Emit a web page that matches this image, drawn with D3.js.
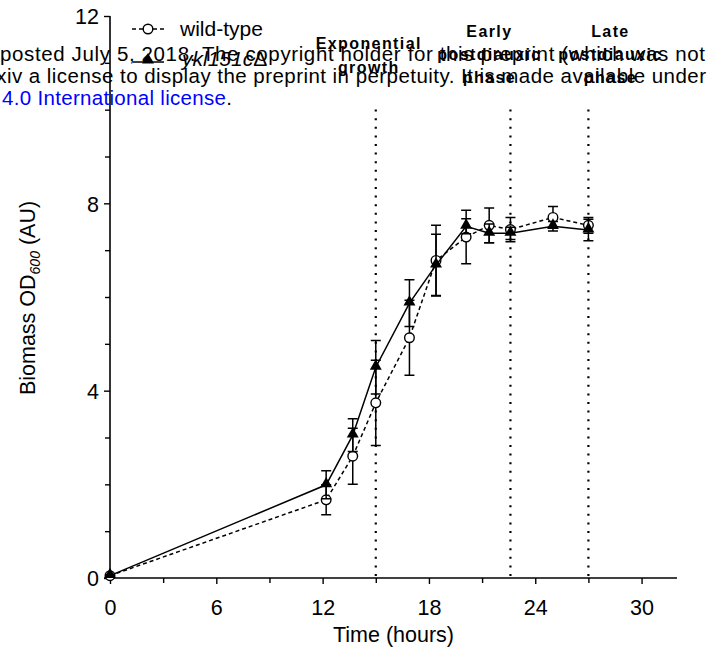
<!DOCTYPE html>
<html>
<head>
<meta charset="utf-8">
<script src="https://cdn.jsdelivr.net/npm/d3@7"></script>
<style>
  html, body { margin: 0; padding: 0; background: #fff; }
  svg { display: block; font-family: "Liberation Sans", Arial, sans-serif; }
</style>
</head>
<body>
<svg id="chart" width="724" height="650"></svg>
<script>
// Sampling times (hours)
const times = [0, 12.2, 13.7, 15.0, 16.9, 18.4, 20.1, 21.4, 22.6, 25.0, 27.0];
// Wild-type OD600 mean and SD
const wildType = [0.05, 1.67, 2.60, 3.74, 5.13, 6.78, 7.28, 7.53, 7.44, 7.70, 7.53];
const wildTypeErr = [0.02, 0.32, 0.60, 0.91, 0.80, 0.75, 0.57, 0.37, 0.26, 0.23, 0.17];
// ykl151cΔ OD600 mean and SD
const mutant = [0.05, 1.99, 3.05, 4.50, 5.87, 6.68, 7.51, 7.36, 7.36, 7.51, 7.43];
const mutantErr = [0.02, 0.30, 0.35, 0.57, 0.50, 0.66, 0.16, 0.20, 0.13, 0.10, 0.23];
// Growth phase markers (hours) and their labels
const phaseTimes = [15, 22.6, 27];
const phaseLabels = [["Exponential", "growth"], ["Early", "postdiauxic", "phase"], ["Late", "postdiauxic", "phase"]];
// Axis ticks
const xMajorTicks = [0, 6, 12, 18, 24, 30];
const xMinorTicks = [3, 9, 15, 21, 27];
const yMajorTicks = [0, 4, 8, 12];
const yMinorTicks = [1, 2, 3, 5, 6, 7, 9, 10, 11];
// Preprint notice lines
const noticeLines = [
  "posted July 5, 2018. The copyright holder for this preprint (which was not",
  "Rxiv a license to display the preprint in perpetuity. It is made available under"
];

const svg = d3.select("#chart");
const x = d3.scaleLinear().domain([0, 32]).range([110, 677]);
const y = d3.scaleLinear().domain([0, 12]).range([578, 16]);
const FS = 21.5;

// Notice text (drawn first, underneath the chart)
const notice = svg.append("g").attr("font-size", 20.5).attr("fill", "#000");
notice.append("text").attr("x", 0).attr("y", 61)
  .attr("textLength", 705).attr("lengthAdjust", "spacing").text(noticeLines[0]);
notice.append("text").attr("x", -19).attr("y", 83)
  .attr("textLength", 725).attr("lengthAdjust", "spacing").text(noticeLines[1]);
const l3 = notice.append("text").attr("x", 2).attr("y", 105);
l3.append("tspan").attr("fill", "#0000ff").attr("textLength", 224).attr("lengthAdjust", "spacing")
  .text("4.0 International license");
l3.append("tspan").attr("fill", "#000").text(".");

// Axes
const axisG = svg.append("g");
const xAxis = axisG.append("g").attr("transform", `translate(0,${y(0)})`)
  .call(d3.axisBottom(x).tickValues(xMajorTicks).tickSize(6).tickFormat(d3.format("d")));
axisG.append("g").attr("transform", `translate(0,${y(0)})`)
  .call(d3.axisBottom(x).tickValues(xMinorTicks).tickSize(5).tickFormat(""))
  .select(".domain").remove();
const yAxis = axisG.append("g").attr("transform", `translate(${x(0)},0)`)
  .call(d3.axisLeft(y).tickValues(yMajorTicks).tickSize(6).tickFormat(d3.format("d")));
axisG.append("g").attr("transform", `translate(${x(0)},0)`)
  .call(d3.axisLeft(y).tickValues(yMinorTicks).tickSize(5).tickFormat(""))
  .select(".domain").remove();
axisG.selectAll("g").attr("font-size", FS).attr("font-family", "Liberation Sans, Arial, sans-serif");
axisG.selectAll(".domain").attr("stroke-width", 1.6);
xAxis.select(".domain").attr("d", `M${x(0)},0H${x(32)}`);
yAxis.select(".domain").attr("d", `M0,${y(0)}V${y(12)}`);
axisG.selectAll(".tick line").attr("stroke-width", 1.4);
axisG.selectAll("text").attr("fill", "#000");
xAxis.selectAll(".tick text").attr("y", 37).attr("dy", 0);
yAxis.selectAll(".tick text").attr("x", -11).attr("dy", "0.36em");

// Axis titles
svg.append("text").attr("x", x(16)).attr("y", 642).attr("text-anchor", "middle")
  .attr("font-size", FS).text("Time (hours)");
const yTitle = svg.append("text").attr("transform", `translate(35,298) rotate(-90)`)
  .attr("text-anchor", "middle").attr("font-size", FS);
yTitle.append("tspan").text("Biomass OD");
yTitle.append("tspan").attr("font-size", 14).attr("font-style", "italic").attr("dy", 5).text("600");
yTitle.append("tspan").attr("dy", -5).text(" (AU)");

// Phase boundary lines and labels
const labelShift = [-7, -21, 22];
const labelBaselines = [[49, 73], [37, 60, 83], [37, 60, 83]];
phaseTimes.forEach((t, i) => {
  svg.append("line").attr("x1", x(t)).attr("x2", x(t)).attr("y1", y(0) - 2).attr("y2", 108)
    .attr("stroke", "#000").attr("stroke-width", 2.2).attr("stroke-dasharray", "2,6.6");
  phaseLabels[i].forEach((s, j) => {
    svg.append("text").attr("x", x(t) + labelShift[i]).attr("y", labelBaselines[i][j])
      .attr("text-anchor", "middle").attr("font-size", 16).attr("font-weight", "bold")
      .attr("letter-spacing", 1.4).text(s);
  });
});

// Series
const series = [
  { vals: wildType, err: wildTypeErr, dash: "4,3", marker: "circle" },
  { vals: mutant, err: mutantErr, dash: null, marker: "triangle" }
];
const line = d3.line().x((d, i) => x(times[i])).y(d => y(d));
const triSym = d3.symbol().type(d3.symbolTriangle).size(62);
series.forEach(s => {
  const g = svg.append("g");
  g.append("path").attr("d", line(s.vals)).attr("fill", "none").attr("stroke", "#000")
    .attr("stroke-width", 1.5).attr("stroke-dasharray", s.dash);
  s.vals.forEach((v, i) => {
    const cx = x(times[i]), lo = y(v - s.err[i]), hi = y(v + s.err[i]);
    g.append("path").attr("d", `M${cx},${lo}V${hi}M${cx - 5},${lo}H${cx + 5}M${cx - 5},${hi}H${cx + 5}`)
      .attr("stroke", "#000").attr("stroke-width", 1.5).attr("fill", "none");
  });
  s.vals.forEach((v, i) => {
    if (s.marker === "circle") {
      g.append("circle").attr("cx", x(times[i])).attr("cy", y(v)).attr("r", 4.8)
        .attr("fill", "#fff").attr("stroke", "#000").attr("stroke-width", 1.4);
    } else {
      g.append("path").attr("d", triSym()).attr("transform", `translate(${x(times[i])},${y(v) - 1})`)
        .attr("fill", "#000");
    }
  });
});

// Legend
const leg = svg.append("g");
leg.append("line").attr("x1", 132).attr("x2", 164).attr("y1", 29).attr("y2", 29)
  .attr("stroke", "#000").attr("stroke-width", 1.5).attr("stroke-dasharray", "4,3");
leg.append("circle").attr("cx", 148).attr("cy", 29).attr("r", 4.8)
  .attr("fill", "#fff").attr("stroke", "#000").attr("stroke-width", 1.4);
leg.append("text").attr("x", 180).attr("y", 36).attr("font-size", 21).text("wild-type");
leg.append("line").attr("x1", 133).attr("x2", 164).attr("y1", 62).attr("y2", 62)
  .attr("stroke", "#000").attr("stroke-width", 1.5);
leg.append("path").attr("d", triSym()).attr("transform", "translate(148,60)").attr("fill", "#000");
const mutLabel = leg.append("text").attr("x", 182).attr("y", 66).attr("font-size", 21);
mutLabel.append("tspan").attr("font-style", "italic").text("ykl151c");
mutLabel.append("tspan").text("Δ");
</script>
</body>
</html>
